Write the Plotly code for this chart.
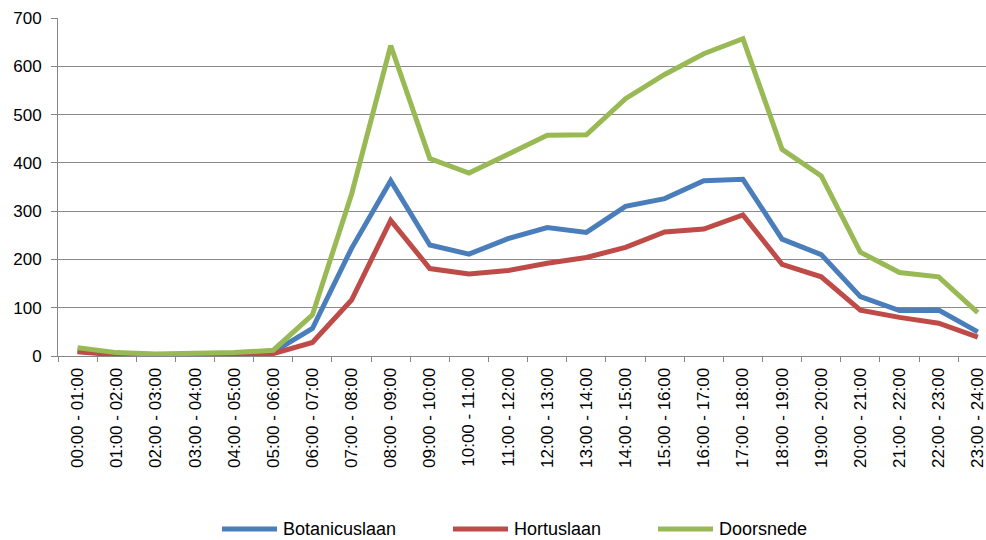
import plotly.graph_objects as go

categories = [
    "00:00 - 01:00", "01:00 - 02:00", "02:00 - 03:00", "03:00 - 04:00",
    "04:00 - 05:00", "05:00 - 06:00", "06:00 - 07:00", "07:00 - 08:00",
    "08:00 - 09:00", "09:00 - 10:00", "10:00 - 11:00", "11:00 - 12:00",
    "12:00 - 13:00", "13:00 - 14:00", "14:00 - 15:00", "15:00 - 16:00",
    "16:00 - 17:00", "17:00 - 18:00", "18:00 - 19:00", "19:00 - 20:00",
    "20:00 - 21:00", "21:00 - 22:00", "22:00 - 23:00", "23:00 - 24:00",
]
botanicuslaan = [10, 4, 2, 2, 4, 8, 57, 223, 363, 230, 211, 243, 266, 256, 310, 326, 363, 366, 242, 210, 123, 94, 95, 50]
hortuslaan = [9, 2, 1, 1, 2, 5, 28, 116, 281, 181, 170, 177, 192, 204, 225, 257, 263, 292, 190, 164, 95, 80, 68, 39]
doorsnede = [17, 7, 4, 5, 7, 12, 85, 335, 643, 409, 379, 418, 457, 458, 533, 583, 626, 657, 428, 373, 215, 173, 164, 90]

series = [
    ("Botanicuslaan", botanicuslaan, "#4A7EBB"),
    ("Hortuslaan", hortuslaan, "#BE4B48"),
    ("Doorsnede", doorsnede, "#98B954"),
]

font_family = "Liberation Sans, Arial, sans-serif"

W, H = 986, 540
ML, MR, MT, MB = 58, 0, 18, 184
PW, PH = W - ML - MR, H - MT - MB

fig = go.Figure()
for name, vals, color in series:
    fig.add_trace(go.Scatter(
        x=categories, y=vals, name=name, mode="lines",
        line=dict(color=color, width=5),
        showlegend=False,
    ))

# Legend drawn manually (key line + label) below the axis labels (px)
legend_key_left_px = [222, 453, 658]
legend_y_px = 529
key_len = 55
for (name, _, color), x0 in zip(series, legend_key_left_px):
    xa = (x0 - ML) / PW
    xb = (x0 + key_len - ML) / PW
    yy = (MT + PH - legend_y_px) / PH
    fig.add_shape(type="line", xref="paper", yref="paper",
                  x0=xa, x1=xb, y0=yy, y1=yy,
                  line=dict(color=color, width=5))
    fig.add_annotation(xref="paper", yref="paper",
                       x=(x0 + key_len + 4 - ML) / PW, y=yy,
                       text=name, showarrow=False,
                       xanchor="left", yanchor="middle",
                       font=dict(size=18, color="#000000", family=font_family))

fig.update_layout(
    width=W, height=H,
    margin=dict(l=ML, r=MR, t=MT, b=MB, autoexpand=False),
    paper_bgcolor="white", plot_bgcolor="white",
    font=dict(family=font_family, size=16, color="#000000"),
    showlegend=False,
)
fig.update_xaxes(
    type="category", range=[-0.5, 23.21], automargin=False,
    tickangle=-90, tickfont=dict(size=17),
    showline=True, linecolor="#868686", linewidth=1,
    ticks="outside", ticklen=5, tickcolor="#868686", tickson="boundaries",
    ticklabelstandoff=4,
    showgrid=False, zeroline=False,
)
fig.update_yaxes(
    range=[0, 700], dtick=100, tickfont=dict(size=17), automargin=False,
    showline=True, linecolor="#868686", linewidth=1,
    ticks="outside", ticklen=6, tickcolor="#868686",
    ticklabelstandoff=6,
    showgrid=True, gridcolor="#8a8a8a", gridwidth=1.3,
    zeroline=False,
)

fig.write_html(
    "out.html",
    config={"displayModeBar": False},
    post_script="document.body.style.margin='0';document.body.style.overflow='hidden';",
)
